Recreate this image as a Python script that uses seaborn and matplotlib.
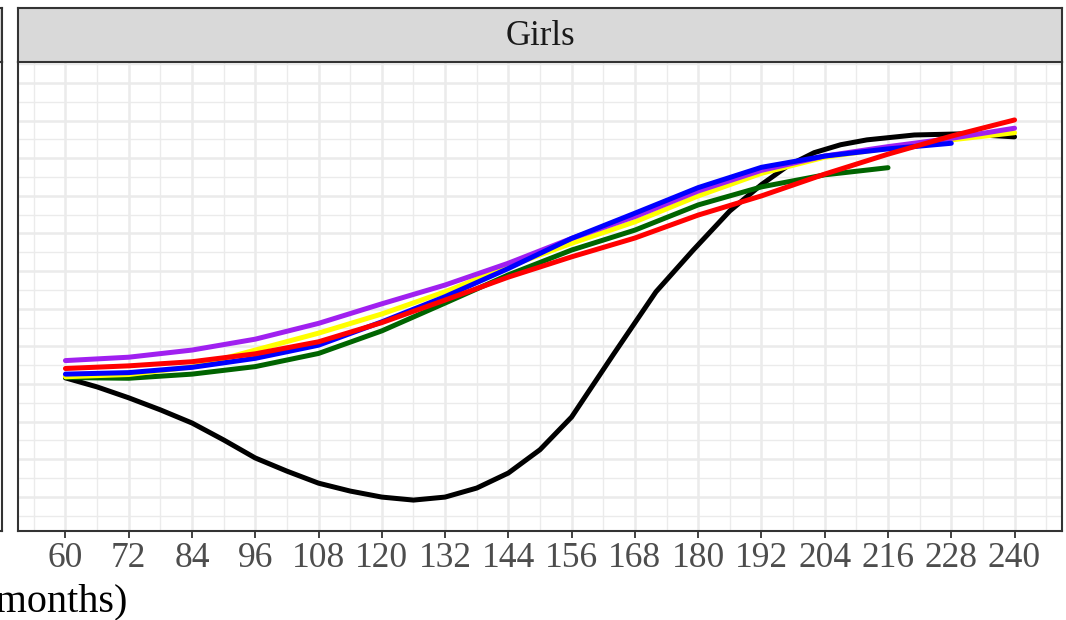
import numpy as np
import pandas as pd
import seaborn as sns
import matplotlib.pyplot as plt
from matplotlib.ticker import MultipleLocator

# valores (idade em meses, eixo y sem rotulos visiveis)
idade_preto = [60, 66, 72, 78, 84, 90, 96, 102, 108, 114, 120, 126, 132, 138, 144, 150, 156,
               164, 172, 179, 186, 192, 197, 202, 207, 212, 221, 230, 240]
valor_preto = [3.16, 2.92, 2.63, 2.31, 1.96, 1.51, 1.03, 0.68, 0.36, 0.15, -0.01, -0.09, -0.01,
               0.23, 0.63, 1.25, 2.12, 3.80, 5.45, 6.55, 7.60, 8.30, 8.80, 9.15, 9.36, 9.49,
               9.62, 9.65, 9.57]

idade_240 = [60, 72, 84, 96, 108, 120, 132, 144, 156, 168, 180, 192, 204, 216, 228, 240]
idade_228 = idade_240[:-1]
idade_216 = idade_240[:-2]

valor_roxo = [3.62, 3.71, 3.90, 4.19, 4.61, 5.13, 5.63, 6.21, 6.87, 7.45, 8.13, 8.68, 9.06, 9.31, 9.53, 9.80]
valor_amarelo = [3.19, 3.25, 3.45, 3.90, 4.35, 4.86, 5.45, 6.12, 6.74, 7.31, 8.00, 8.60, 9.03, 9.27, 9.49, 9.68]
valor_vermelho = [3.41, 3.48, 3.59, 3.80, 4.12, 4.63, 5.23, 5.84, 6.38, 6.88, 7.49, 8.00, 8.58, 9.11, 9.59, 10.02]
valor_azul = [3.26, 3.30, 3.44, 3.68, 4.03, 4.65, 5.32, 6.07, 6.87, 7.54, 8.22, 8.76, 9.06, 9.25, 9.40]
valor_verde = [3.17, 3.15, 3.26, 3.46, 3.81, 4.41, 5.15, 5.90, 6.56, 7.09, 7.76, 8.24, 8.56, 8.75]

ticks_x = list(range(60, 241, 12))

series = {
    'preto': (idade_preto, valor_preto),
    'verde': (idade_216, valor_verde),
    'amarelo': (idade_240, valor_amarelo),
    'roxo': (idade_240, valor_roxo),
    'azul': (idade_228, valor_azul),
    'vermelho': (idade_240, valor_vermelho),
}
cores = {'preto': 'black', 'verde': '#006400', 'amarelo': '#FFFF00',
         'roxo': '#A020F0', 'azul': '#0000FF', 'vermelho': '#FF0000'}

data = pd.concat([pd.DataFrame({'Idade': x, 'Valor': y, 'Serie': nome})
                  for nome, (x, y) in series.items()], ignore_index=True)

sns.set_style('white')
plt.rcParams['font.family'] = ['Liberation Serif', 'DejaVu Serif']

W, H = 1066, 620
fig = plt.figure(figsize=(W / 100, H / 100), dpi=100)

# painel principal (Girls)
p_left, p_right, p_top, p_bot = 18, 1062, 62, 531
ax = fig.add_axes([p_left / W, 1 - p_bot / H, (p_right - p_left) / W, (p_bot - p_top) / H])

sns.lineplot(data=data, x='Idade', y='Valor', hue='Serie', hue_order=list(series.keys()),
             palette=cores, linewidth=3.6, legend=False, estimator=None, sort=True, ax=ax)
for linha in ax.get_lines():
    linha.set_solid_joinstyle('round')

ax.set_xlim(51, 249)
ax.set_ylim(-0.912, 11.561)
ax.xaxis.set_major_locator(plt.FixedLocator(ticks_x))
ax.xaxis.set_minor_locator(plt.FixedLocator([t - 6 for t in ticks_x] + [246]))
ax.yaxis.set_major_locator(MultipleLocator(1))
ax.yaxis.set_minor_locator(plt.FixedLocator(np.arange(-0.5, 11.6, 1)))
ax.grid(which='major', color='#EBEBEB', linewidth=1.8)
ax.grid(which='minor', color='#EBEBEB', linewidth=1.0)
ax.set_axisbelow(True)
ax.tick_params(axis='x', which='major', length=5, width=1.3, color='#333333', pad=3,
               labelsize=25.5, labelcolor='#4D4D4D', bottom=True)
ax.tick_params(axis='x', which='minor', length=0)
ax.tick_params(axis='y', which='both', left=False, labelleft=False)
ax.set_xlabel('')
ax.set_ylabel('')
for s in ax.spines.values():
    s.set_color('#333333')
    s.set_linewidth(1.5)

# faixa do titulo do painel
strip = fig.add_axes([p_left / W, 1 - p_top / H, (p_right - p_left) / W, (p_top - 8) / H])
strip.set_facecolor('#D9D9D9')
strip.set_xticks([])
strip.set_yticks([])
for s in strip.spines.values():
    s.set_color('#333333')
    s.set_linewidth(1.5)
strip.text(0.5, 0.47, 'Girls', ha='center', va='center', fontsize=25, color='#1A1A1A',
           transform=strip.transAxes)

# borda do painel vizinho (cortado a esquerda)
viz = fig.add_axes([-200 / W, 1 - p_bot / H, 202 / W, (p_bot - p_top) / H])
viz.set_xticks([])
viz.set_yticks([])
viz.set_facecolor('white')
for s in viz.spines.values():
    s.set_color('#333333')
    s.set_linewidth(1.5)
viz_strip = fig.add_axes([-200 / W, 1 - p_top / H, 202 / W, (p_top - 8) / H])
viz_strip.set_facecolor('#D9D9D9')
viz_strip.set_xticks([])
viz_strip.set_yticks([])
for s in viz_strip.spines.values():
    s.set_color('#333333')
    s.set_linewidth(1.5)

fig.text(127 / W, 1 - 612 / H, 'Age (months)', ha='right', va='baseline', fontsize=29, color='black')

plt.savefig('out.png', dpi=100)
